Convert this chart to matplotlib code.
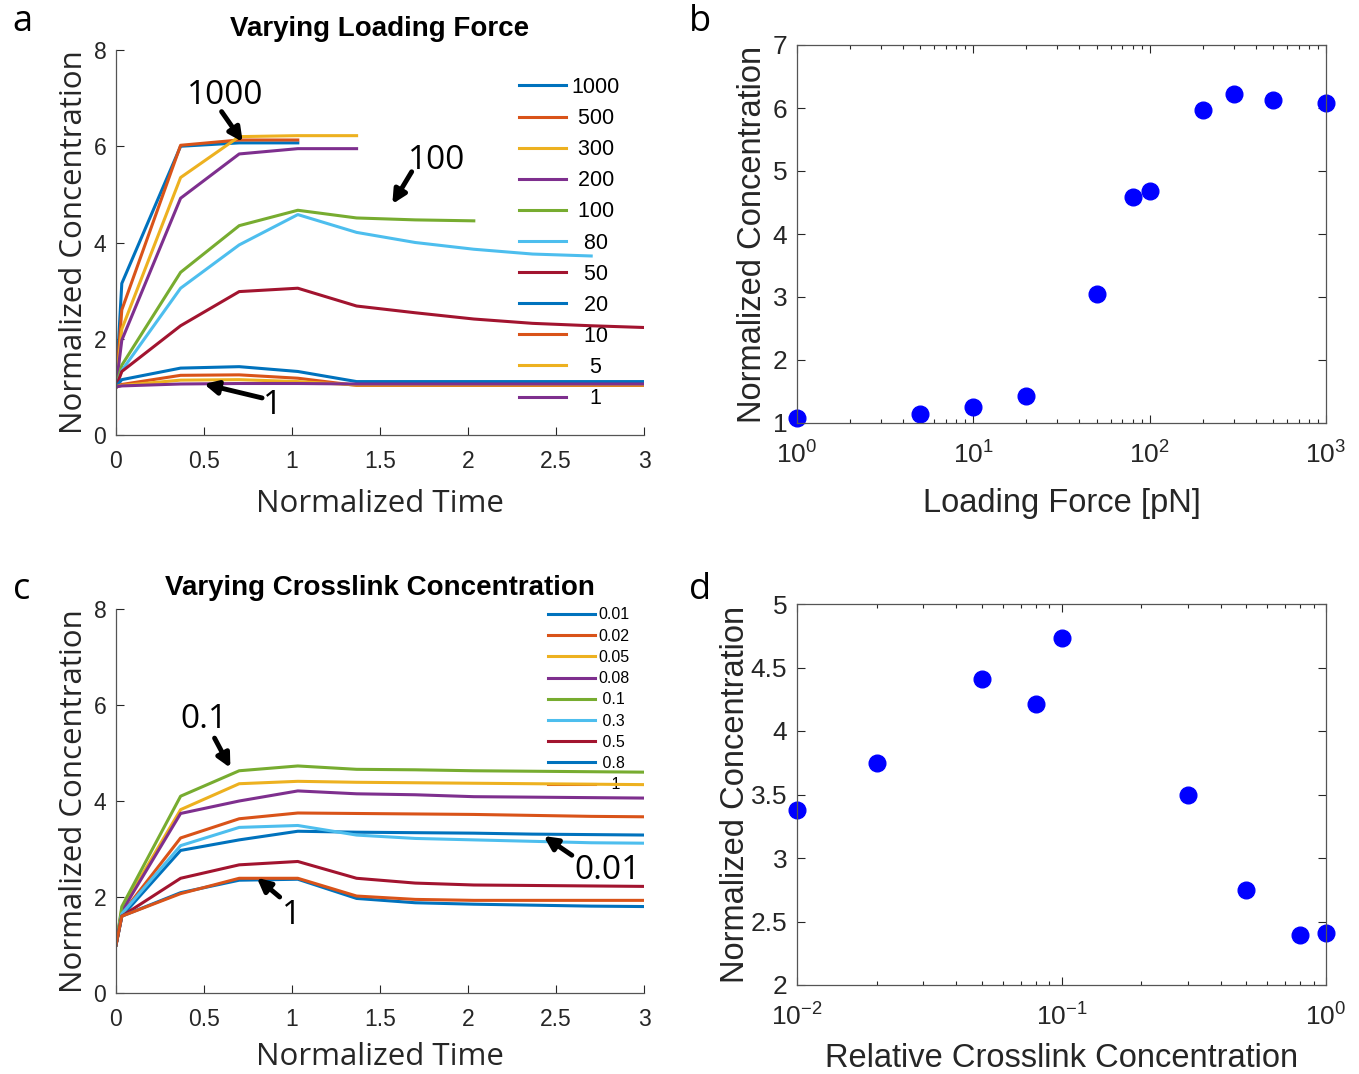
import matplotlib
matplotlib.use("Agg")
import matplotlib.pyplot as plt

plt.rcParams['font.family'] = ['Liberation Sans', 'DejaVu Sans']
plt.rcParams['mathtext.fontset'] = 'custom'
plt.rcParams['mathtext.rm'] = 'Liberation Sans'
plt.rcParams['mathtext.it'] = 'Liberation Sans:italic'

# time points of the simulation (normalized)
time = [0, 0.033, 0.367, 0.7, 1.033, 1.367, 1.7, 2.033, 2.367, 2.7, 3.033]

# panel a: concentration vs time for each loading force
force_labels = ['1000', ' 500', ' 300', ' 200', ' 100', '  80', '  50', '  20', '  10', '   5', '   1']
f1000 = [1.0, 3.15, 6.0, 6.07, 6.07]
f500 = [1.0, 2.6, 6.02, 6.13, 6.13]
f300 = [1.0, 2.2, 5.35, 6.2, 6.22, 6.22]
f200 = [1.0, 1.97, 4.92, 5.84, 5.95, 5.95]
f100 = [1.0, 1.45, 3.38, 4.35, 4.67, 4.51, 4.47, 4.45]
f80 = [1.0, 1.34, 3.05, 3.95, 4.58, 4.21, 4.0, 3.86, 3.76, 3.72]
f50 = [1.0, 1.32, 2.27, 2.98, 3.05, 2.68, 2.54, 2.41, 2.32, 2.27, 2.23]
f20 = [1.0, 1.15, 1.39, 1.42, 1.32, 1.11, 1.11, 1.11, 1.11, 1.11, 1.11]
f10 = [1.0, 1.05, 1.24, 1.25, 1.18, 1.03, 1.03, 1.03, 1.03, 1.03, 1.03]
f5 = [1.0, 1.03, 1.14, 1.15, 1.11, 1.04, 1.04, 1.04, 1.04, 1.04, 1.04]
f1 = [1.0, 1.02, 1.06, 1.07, 1.07, 1.06, 1.06, 1.06, 1.06, 1.06, 1.06]
force_curves = [f1000, f500, f300, f200, f100, f80, f50, f20, f10, f5, f1]

# panel b: peak concentration vs loading force
force = [1, 5, 10, 20, 50, 80, 100, 200, 300, 500, 1000]
force_peak = [1.08, 1.15, 1.25, 1.43, 3.05, 4.58, 4.68, 5.97, 6.22, 6.13, 6.08]

# panel c: concentration vs time for each crosslink concentration
xl_labels = ['0.01', '0.02', '0.05', '0.08', ' 0.1', ' 0.3', ' 0.5', ' 0.8', '   1']
c001 = [1.0, 1.6, 2.97, 3.19, 3.37, 3.35, 3.34, 3.33, 3.31, 3.3, 3.29]
c002 = [1.0, 1.65, 3.23, 3.63, 3.75, 3.74, 3.73, 3.72, 3.7, 3.68, 3.67]
c005 = [1.0, 1.75, 3.82, 4.36, 4.41, 4.39, 4.38, 4.37, 4.36, 4.35, 4.34]
c008 = [1.0, 1.7, 3.74, 4.0, 4.21, 4.15, 4.13, 4.09, 4.08, 4.07, 4.06]
c01 = [1.0, 1.8, 4.1, 4.63, 4.73, 4.66, 4.65, 4.63, 4.62, 4.61, 4.6]
c03 = [1.0, 1.65, 3.07, 3.45, 3.49, 3.29, 3.22, 3.19, 3.16, 3.13, 3.12]
c05 = [1.0, 1.6, 2.39, 2.67, 2.74, 2.39, 2.29, 2.25, 2.24, 2.23, 2.22]
c08 = [1.0, 1.6, 2.09, 2.35, 2.37, 1.97, 1.88, 1.85, 1.83, 1.81, 1.8]
c1 = [1.0, 1.6, 2.07, 2.39, 2.39, 2.02, 1.95, 1.93, 1.93, 1.93, 1.93]
xl_curves = [c001, c002, c005, c008, c01, c03, c05, c08, c1]

# panel d: peak concentration vs crosslink concentration
crosslink = [0.01, 0.02, 0.05, 0.08, 0.1, 0.3, 0.5, 0.8, 1]
xl_peak = [3.38, 3.75, 4.41, 4.21, 4.73, 3.5, 2.75, 2.39, 2.41]

matlab_colors = ['#0072BD', '#D95319', '#EDB120', '#7E2F8E', '#77AC30',
                 '#4DBEEE', '#A2142F']
tick_col = '#262626'
W, H = 1359, 1074


def axes_px(left, right, top, bottom):
    return fig.add_axes([left / W, 1 - bottom / H, (right - left) / W, (bottom - top) / H])


def style_axes(ax, box, size, xpad, ypad):
    for s in ['top', 'right']:
        ax.spines[s].set_visible(box)
    for s in ax.spines.values():
        s.set_color('#555555')
        s.set_linewidth(0.9)
    ax.tick_params(which='both', direction='in', colors=tick_col, labelsize=size,
                   top=box, right=box, width=0.8)
    ax.tick_params(which='major', length=6)
    ax.tick_params(which='minor', length=3)
    ax.tick_params(axis='x', pad=xpad)
    ax.tick_params(axis='y', pad=ypad)


def arrow(ax, tail, tip):
    ax.annotate('', xy=tip, xytext=tail,
                arrowprops=dict(arrowstyle='-|>', color='k', lw=3.5,
                                mutation_scale=20, shrinkA=0, shrinkB=0))


fig = plt.figure(figsize=(W / 100, H / 100), dpi=100)

# ---- panel a
ax = axes_px(116, 644, 50, 435)
for i, y in enumerate(force_curves):
    ax.plot(time[:len(y)], y, color=matlab_colors[i % 7], lw=2.2, label=force_labels[i])
ax.set_xlim(0, 3)
ax.set_ylim(0, 8)
ax.set_xticks([0, 0.5, 1, 1.5, 2, 2.5, 3])
ax.set_xticklabels(['0', '0.5', '1', '1.5', '2', '2.5', '3'])
ax.set_yticks([0, 2, 4, 6, 8])
style_axes(ax, False, 16.5, 10.5, 7)
ax.set_xlabel('Normalized Time', fontsize=22.5, family='Open Sans', color=tick_col, labelpad=12)
ax.set_ylabel('Normalized Concentration', fontsize=22.5, family='Open Sans', color=tick_col, labelpad=3)
ax.set_title('Varying Loading Force', fontsize=20, fontweight='bold', pad=10)
leg = ax.legend(loc='upper left', bbox_to_anchor=(0.763, 0.93), frameon=False,
                prop={'size': 15.5}, handlelength=2.2, borderaxespad=0,
                handletextpad=0.25, labelspacing=0.47, borderpad=0)
leg.set_zorder(1)
ax.text(0.62, 7.05, '1000', fontsize=24, family='Open Sans', ha='center', va='center')
arrow(ax, (0.60, 6.72), (0.72, 6.09))
ax.text(1.82, 5.70, '100', fontsize=24, family='Open Sans', ha='center', va='center')
arrow(ax, (1.68, 5.47), (1.57, 4.80))
ax.text(0.89, 0.62, '1', fontsize=24, family='Open Sans', ha='center', va='center')
arrow(ax, (0.83, 0.77), (0.50, 1.06))
fig.text(22 / W, 1 - 22 / H, 'a', fontsize=26, family='Open Sans', ha='center', va='center')

# ---- panel b
ax = axes_px(797, 1326, 45, 423)
ax.plot(force, force_peak, 'o', color='#0000FF', ms=12, clip_on=False)
ax.set_xscale('log')
ax.set_xlim(1, 1000)
ax.set_ylim(1, 7)
style_axes(ax, True, 19, 13, 7)
ax.set_xlabel('Loading Force [pN]', fontsize=23.5, color=tick_col, labelpad=14)
ax.set_ylabel('Normalized Concentration', fontsize=23.5, color=tick_col, labelpad=3.5)
fig.text(700 / W, 1 - 22 / H, 'b', fontsize=26, family='Open Sans', ha='center', va='center')

# ---- panel c
ax = axes_px(116, 644, 609, 993)
for i, y in enumerate(xl_curves):
    ax.plot(time[:len(y)], y, color=matlab_colors[i % 7], lw=2.2, label=xl_labels[i])
ax.set_xlim(0, 3)
ax.set_ylim(0, 8)
ax.set_xticks([0, 0.5, 1, 1.5, 2, 2.5, 3])
ax.set_xticklabels(['0', '0.5', '1', '1.5', '2', '2.5', '3'])
ax.set_yticks([0, 2, 4, 6, 8])
style_axes(ax, False, 16.5, 10.5, 7)
ax.set_xlabel('Normalized Time', fontsize=22.5, family='Open Sans', color=tick_col, labelpad=8)
ax.set_ylabel('Normalized Concentration', fontsize=22.5, family='Open Sans', color=tick_col, labelpad=3)
ax.set_title('Varying Crosslink Concentration', fontsize=20, fontweight='bold', pad=10)
leg = ax.legend(loc='upper left', bbox_to_anchor=(0.818, 1.004), frameon=False,
                prop={'size': 11.5}, handlelength=2.95, borderaxespad=0,
                handletextpad=0.2, labelspacing=0.39, borderpad=0)
leg.set_zorder(1)
ax.text(0.50, 5.70, '0.1', fontsize=24, family='Open Sans', ha='center', va='center')
arrow(ax, (0.56, 5.31), (0.65, 4.69))
ax.text(2.79, 2.55, '0.01', fontsize=24, family='Open Sans', ha='center', va='center')
arrow(ax, (2.59, 2.87), (2.43, 3.27))
ax.text(1.0, 1.62, '1', fontsize=24, family='Open Sans', ha='center', va='center')
arrow(ax, (0.93, 2.0), (0.80, 2.4))
fig.text(22 / W, 1 - 590 / H, 'c', fontsize=26, family='Open Sans', ha='center', va='center')

# ---- panel d
ax = axes_px(797, 1326, 604, 985)
ax.plot(crosslink, xl_peak, 'o', color='#0000FF', ms=12, clip_on=False)
ax.set_xscale('log')
ax.set_xlim(0.01, 1)
ax.set_ylim(2, 5)
ax.set_yticks([2, 2.5, 3, 3.5, 4, 4.5, 5])
ax.set_yticklabels(['2', '2.5', '3', '3.5', '4', '4.5', '5'])
style_axes(ax, True, 19, 13, 7)
ax.set_xlabel('Relative Crosslink Concentration', fontsize=23.5, color=tick_col, labelpad=9)
ax.set_ylabel('Normalized Concentration', fontsize=23.5, color=tick_col, labelpad=0)
fig.text(700 / W, 1 - 590 / H, 'd', fontsize=26, family='Open Sans', ha='center', va='center')

fig.savefig('out.png', dpi=100)
